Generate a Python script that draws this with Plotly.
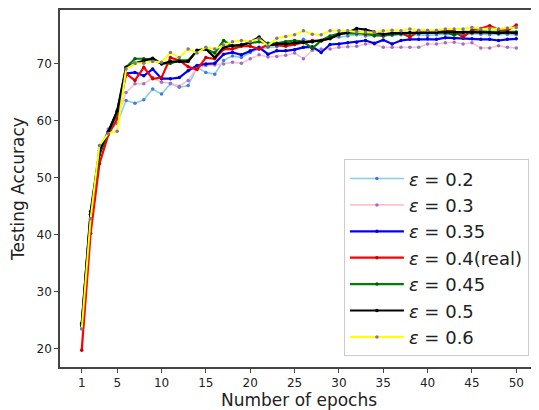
import plotly.graph_objects as go

epochs = list(range(1, 51))

labels = ["0.2", "0.3", "0.35", "0.4(real)", "0.45", "0.5", "0.6"]

acc_02 = [24.0, 43.5, 55.0, 58.0, 59.5, 63.5, 63.0, 63.6, 65.5, 64.6,
          66.4, 65.8, 66.1, 69.3, 68.4, 68.1, 70.5, 71.3, 71.0, 71.9,
          72.5, 72.8, 72.9, 73.2, 73.5, 74.2, 73.8, 74.0, 74.5, 74.6,
          74.8, 75.0, 74.8, 74.8, 74.8, 74.9, 75.0, 74.9, 75.0, 74.9,
          75.0, 75.1, 75.0, 75.1, 75.2, 75.1, 75.0, 75.1, 75.1, 75.0]
acc_03 = [23.5, 43.5, 54.5, 58.5, 60.5, 64.9, 66.4, 66.4, 67.5, 66.7,
          66.5, 66.0, 67.0, 69.3, 69.6, 69.7, 69.9, 70.2, 70.0, 70.8,
          71.5, 71.1, 71.2, 71.4, 71.8, 70.8, 72.3, 72.5, 72.5, 72.8,
          72.9, 73.0, 73.4, 73.4, 72.8, 72.8, 72.8, 72.8, 72.8, 73.4,
          73.4, 73.6, 73.7, 73.4, 73.6, 72.7, 72.7, 73.1, 72.8, 72.7]
acc_035 = [24.0, 43.5, 54.0, 58.0, 61.5, 68.2, 68.4, 67.8, 69.0, 67.3,
           67.3, 67.5, 68.7, 69.6, 69.9, 70.0, 71.6, 71.9, 71.5, 72.2,
           72.8, 71.6, 72.2, 72.2, 72.4, 72.8, 72.9, 71.9, 73.3, 73.4,
           73.6, 73.7, 74.0, 73.5, 74.1, 73.4, 74.0, 74.2, 74.2, 74.3,
           74.2, 74.5, 74.4, 74.4, 74.3, 74.2, 74.2, 74.0, 74.2, 74.3]
acc_04 = [19.7, 40.2, 52.4, 57.5, 60.3, 68.2, 67.0, 69.3, 67.3, 67.5,
          71.0, 70.5, 69.4, 68.9, 71.0, 70.8, 72.5, 72.5, 73.0, 73.0,
          72.5, 73.3, 73.2, 73.0, 73.3, 73.6, 74.0, 73.9, 74.5, 75.0,
          75.5, 75.6, 75.1, 75.1, 74.8, 75.2, 75.3, 74.6, 75.7, 75.7,
          75.6, 75.8, 75.6, 74.6, 75.8, 76.1, 76.6, 75.9, 75.8, 76.7]
acc_045 = [24.2, 43.5, 54.3, 58.0, 61.5, 69.3, 70.8, 70.8, 70.6, 70.0,
           70.0, 70.5, 70.5, 72.2, 72.5, 71.8, 74.0, 73.0, 73.3, 73.5,
           73.8, 73.5, 73.5, 73.8, 74.0, 73.8, 72.6, 74.0, 74.8, 75.2,
           75.3, 75.3, 75.2, 74.9, 74.9, 75.1, 75.2, 75.3, 75.3, 75.4,
           75.4, 75.4, 75.0, 75.5, 75.5, 75.6, 75.5, 75.5, 75.5, 75.5]
acc_05 = [24.4, 44.0, 54.7, 58.0, 61.7, 69.3, 70.0, 70.5, 70.9, 69.9,
          70.3, 70.3, 70.3, 72.3, 72.5, 71.0, 72.8, 73.1, 73.2, 73.7,
          74.6, 73.1, 73.4, 73.4, 73.6, 73.7, 73.8, 74.0, 74.3, 75.1,
          75.4, 76.1, 75.9, 75.5, 75.1, 75.3, 75.3, 75.4, 75.4, 75.4,
          75.4, 75.5, 75.5, 75.4, 75.4, 75.4, 75.4, 75.3, 75.4, 75.3]
acc_06 = [23.4, 42.75, 55.6, 57.7, 58.1, 69.0, 70.0, 70.0, 70.3, 70.2,
          71.9, 71.0, 72.5, 71.8, 72.8, 72.5, 73.2, 73.8, 74.0, 73.8,
          74.3, 73.1, 74.4, 74.7, 75.0, 75.7, 75.1, 75.0, 75.7, 75.7,
          75.7, 75.5, 75.5, 75.4, 75.7, 75.8, 75.7, 76.0, 75.8, 75.8,
          75.8, 76.0, 76.0, 76.0, 76.3, 76.0, 76.1, 76.0, 76.2, 76.3]

series = [acc_02, acc_03, acc_035, acc_04, acc_045, acc_05, acc_06]
line_colors = ["#87CEEB", "#FFC0CB", "#0000FF", "#FF0000", "#008000", "#000000", "#FFFF00"]
marker_colors = ["#4a78d8", "#9a6fd0", "#0000cc", "#cc0000", "#005a00", "#000000", "#7a7a8a"]
line_widths = [1.6, 1.6, 2.2, 2.2, 2.2, 2.2, 2.0]

fig = go.Figure()
for lab, ys, lc, mc, lw in zip(labels, series, line_colors, marker_colors, line_widths):
    fig.add_trace(go.Scatter(
        x=epochs, y=ys, mode="lines+markers",
        name="<i>ε</i> = " + lab,
        line=dict(color=lc, width=lw),
        marker=dict(color=mc, size=3.5, symbol="circle"),
    ))

axis_common = dict(
    showgrid=False, zeroline=False, showline=True, mirror=True,
    linecolor="#444444", linewidth=1.5, automargin=False,
    ticks="outside", ticklen=4, tickwidth=1, tickcolor="#444444",
    tickfont=dict(family="DejaVu Sans", size=12, color="#222222"),
)

fig.update_layout(
    width=531, height=402,
    margin=dict(l=52, r=1, t=2, b=43),
    plot_bgcolor="white", paper_bgcolor="white",
    font=dict(family="DejaVu Sans", color="#222222"),
    xaxis=dict(**axis_common, range=[-1.45, 52.45],
               tickvals=[1, 5, 10, 15, 20, 25, 30, 35, 40, 45, 50],
               title=dict(text="Number of epochs", font=dict(size=17))),
    yaxis=dict(**axis_common, range=[16.75, 79.35],
               tickvals=[20, 30, 40, 50, 60, 70],
               title=dict(text="Testing Accuracy", font=dict(size=17))),
    legend=dict(
        x=0.981, y=0.03, xanchor="right", yanchor="bottom",
        bgcolor="rgba(255,255,255,0.85)", bordercolor="#cccccc", borderwidth=1,
        font=dict(family="DejaVu Sans", size=18, color="#222222"),
        itemwidth=54,
    ),
    showlegend=True,
)

fig.write_html("out.html")
